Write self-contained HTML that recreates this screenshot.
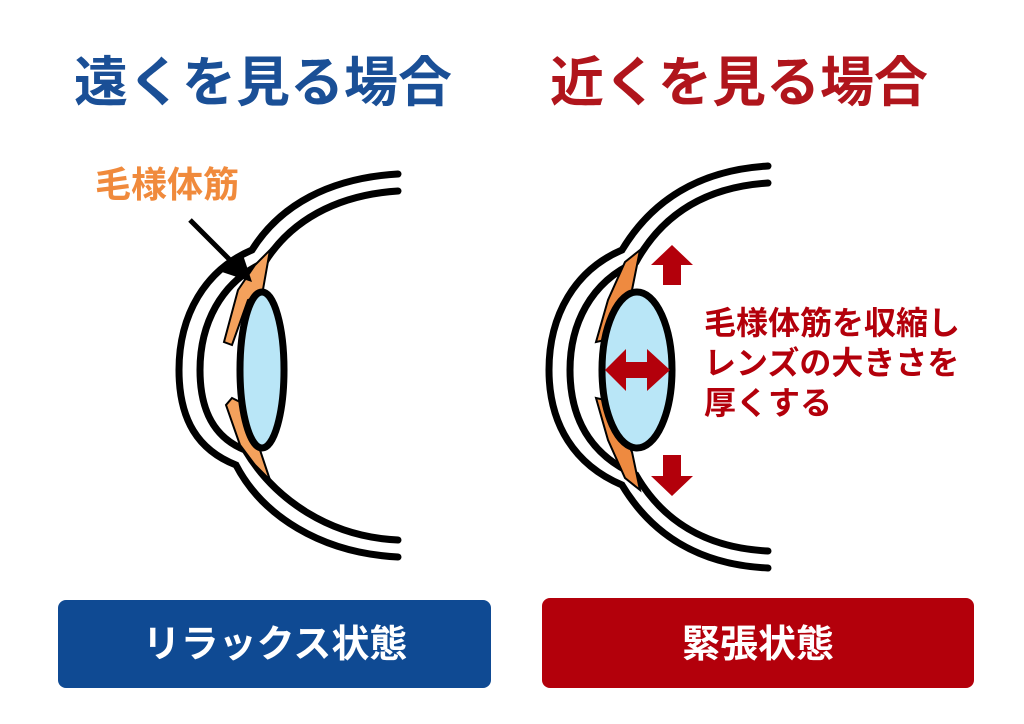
<!DOCTYPE html>
<html><head><meta charset="utf-8"><style>
body{margin:0;width:1024px;height:724px;background:#fff;overflow:hidden;font-family:"Liberation Sans","Noto Sans CJK JP",sans-serif;}
svg{position:absolute;left:0;top:0}
</style></head><body>
<svg width="1024" height="724" viewBox="0 0 1024 724" xmlns="http://www.w3.org/2000/svg" font-family="'Liberation Sans','Noto Sans CJK JP',sans-serif">
<text x="263" y="101" text-anchor="middle" font-size="54" font-weight="bold" fill="#1a4f96">遠くを見る場合</text>
<text x="739" y="101" text-anchor="middle" font-size="54" font-weight="bold" fill="#b0151c">近くを見る場合</text>
<text x="95" y="197" font-size="36" font-weight="bold" fill="#f08a3c">毛様体筋</text>

<!-- left eye -->
<g fill="none" stroke="#000" stroke-width="7" stroke-linecap="round">
<path d="M398,174 C330,178 280,205 252,250 C205,270 179,315 179,370 C179,420 198,450 236,465 C262,515 320,553 398,557"/>
<path d="M398,191 C335,195 290,222 265,262 C220,282 200,325 200,370 C200,412 215,438 245,450 C275,500 330,537 398,540"/>
</g>
<path d="M270,250 L262,295 L248,300 L232,345 L224,342 L238,290 L255,265 Z" fill="#f4a15c" stroke="#000" stroke-width="2"/>
<path d="M232,398 L240,402 L250,440 L260,450 L270,480 L255,465 L240,445 L226,405 Z" fill="#f4a15c" stroke="#000" stroke-width="2"/>
<ellipse cx="262" cy="370" rx="22" ry="78" fill="#b9e6f7" stroke="#000" stroke-width="7"/>
<line x1="190" y1="220" x2="238" y2="268" stroke="#000" stroke-width="5"/>
<polygon points="252,282 222,272 242,252" fill="#000"/>

<!-- right eye -->
<g fill="none" stroke="#000" stroke-width="7" stroke-linecap="round">
<path d="M768,166 C700,170 652,200 622,250 C575,270 549,315 549,370 C549,425 575,465 622,485 C652,535 700,565 768,568"/>
<path d="M768,183 C705,187 662,215 636,262 C590,282 570,325 570,370 C570,418 590,455 636,475 C662,520 705,548 768,551"/>
</g>
<path d="M640,250 L632,290 L605,340 L596,342 L608,300 L625,262 Z" fill="#ee8a40" stroke="#000" stroke-width="2"/>
<path d="M596,398 L605,400 L632,452 L640,490 L625,478 L608,440 Z" fill="#ee8a40" stroke="#000" stroke-width="2"/>
<ellipse cx="637" cy="370" rx="35" ry="78" fill="#b9e6f7" stroke="#000" stroke-width="7"/>
<g fill="#b3000b">
<polygon points="672,245 693,265 681,265 681,285 663,285 663,265 651,265"/>
<polygon points="672,496 693,476 681,476 681,455 663,455 663,476 651,476"/>
<polygon points="605,370 626,349 626,362 647,362 647,349 670,370 647,391 647,378 626,378 626,391"/>
</g>
<text font-size="32" font-weight="bold" fill="#b3000b">
<tspan x="704" y="334">毛様体筋を収縮し</tspan>
<tspan x="704" y="374">レンズの大きさを</tspan>
<tspan x="704" y="414">厚くする</tspan>
</text>

<rect x="58" y="600" width="433" height="88" rx="8" fill="#0f4a93"/>
<rect x="542" y="598" width="432" height="90" rx="8" fill="#b3000b"/>
<text x="275" y="657" text-anchor="middle" font-size="38" font-weight="bold" fill="#fff">リラックス状態</text>
<text x="758" y="657" text-anchor="middle" font-size="38" font-weight="bold" fill="#fff">緊張状態</text>
</svg>
</body></html>
